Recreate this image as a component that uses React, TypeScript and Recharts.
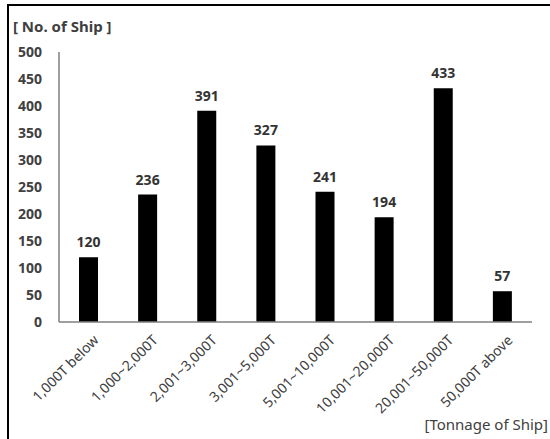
import React from "react";
import { BarChart, Bar, XAxis, YAxis, LabelList } from "recharts";

const categories = [
  "1,000T below",
  "1,000~2,000T",
  "2,001~3,000T",
  "3,001~5,000T",
  "5,001~10,000T",
  "10,001~20,000T",
  "20,001~50,000T",
  "50,000T above",
];
const shipCounts = [120, 236, 391, 327, 241, 194, 433, 57];
const yTicks = [0, 50, 100, 150, 200, 250, 300, 350, 400, 450, 500];

const data = categories.map((name, i) => ({ name, ships: shipCounts[i] }));

const FONT = "'Noto Sans', sans-serif";
const TEXT = "#404040";

const RotatedTick = (props: any) => {
  const { x, y, payload } = props;
  return (
    <g transform={`translate(${x + 4},${y})`}>
      <text
        x={0}
        y={0}
        dy="0.71em"
        textAnchor="end"
        transform="rotate(-45)"
        fill={TEXT}
        fontSize={14}
        fontFamily={FONT}
      >
        {payload.value}
      </text>
    </g>
  );
};

export default function App() {
  return (
    <div
      style={{
        position: "absolute",
        left: 0,
        top: 0,
        width: 550,
        height: 439,
        overflow: "hidden",
        background: "#fff",
        fontFamily: FONT,
      }}
    >
      <div
        style={{
          position: "absolute",
          left: 7,
          top: 4,
          width: 600,
          height: 500,
          borderLeft: "2px solid #000",
          borderTop: "2px solid #000",
        }}
      />
      <div
        style={{
          position: "absolute",
          left: 13,
          top: 16,
          fontSize: 15,
          fontWeight: 700,
          color: TEXT,
          whiteSpace: "nowrap",
        }}
      >
        [ No. of Ship ]
      </div>
      <div
        style={{
          position: "absolute",
          right: 2,
          top: 414,
          fontSize: 15,
          color: TEXT,
          whiteSpace: "nowrap",
        }}
      >
        [Tonnage of Ship]
      </div>
      <div style={{ position: "absolute", left: 0, top: 0 }}>
        <BarChart
          width={550}
          height={439}
          data={data}
          margin={{ top: 52, right: 18, left: 0, bottom: 0 }}
        >
          <XAxis
            dataKey="name"
            height={117}
            interval={0}
            tickLine={false}
            tickSize={6}
            tickMargin={6}
            axisLine={{ stroke: "#7f7f7f", strokeWidth: 1.5 }}
            tick={<RotatedTick />}
          />
          <XAxis
            xAxisId="top"
            orientation="top"
            dataKey="name"
            height={0}
            tick={false}
            tickLine={false}
            axisLine={{ stroke: "#7f7f7f", strokeWidth: 1.5 }}
          />
          <YAxis
            width={59}
            domain={[0, 500]}
            ticks={yTicks}
            interval={0}
            tickLine={false}
            tickSize={6}
            tickMargin={11}
            axisLine={{ stroke: "#7f7f7f", strokeWidth: 1.5 }}
            tick={{ fill: TEXT, fontSize: 14, fontWeight: 700, fontFamily: FONT }}
          />
          <YAxis
            yAxisId="right"
            orientation="right"
            width={0}
            domain={[0, 500]}
            tick={false}
            tickLine={false}
            axisLine={{ stroke: "#7f7f7f", strokeWidth: 1.5 }}
          />
          <Bar dataKey="ships" fill="#000" barSize={19} isAnimationActive={false}>
            <LabelList
              dataKey="ships"
              position="top"
              offset={10}
              fill="#333"
              fontSize={14}
              fontWeight={700}
              fontFamily={FONT}
            />
          </Bar>
        </BarChart>
      </div>
    </div>
  );
}
